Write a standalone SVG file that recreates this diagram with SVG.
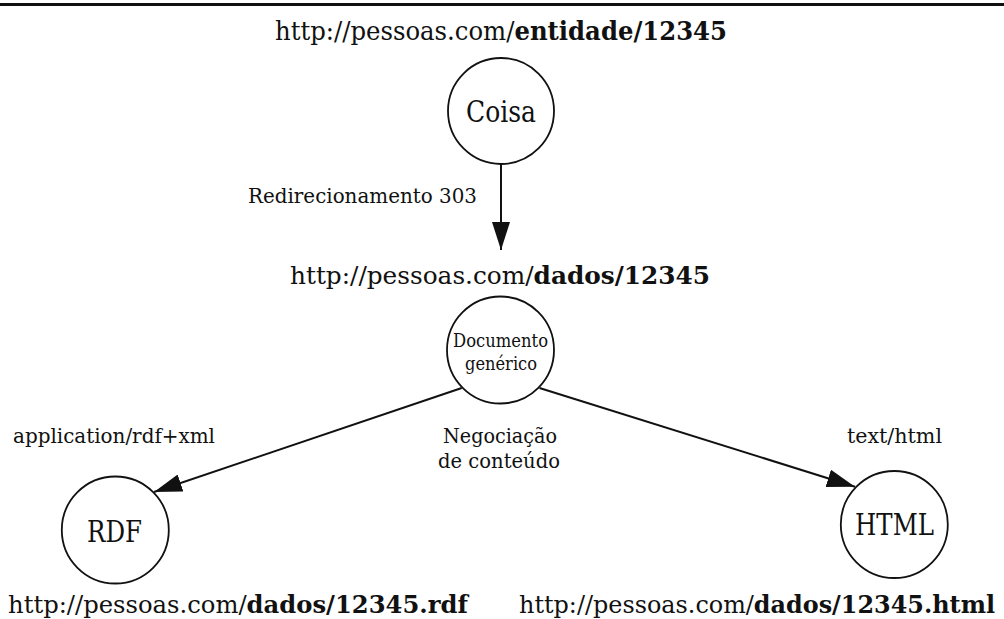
<svg xmlns="http://www.w3.org/2000/svg" width="1004" height="619" viewBox="0 0 1004 619">
<style>
text{font-family:"DejaVu Serif","Liberation Serif",serif;fill:#111;}
.node{fill:#fff;stroke:#111;stroke-width:1.8;}
.edge{stroke:#111;stroke-width:2;fill:none;}
.b{font-weight:bold;}
</style>
<defs>
<marker id="arr" viewBox="0 0 28 18" refX="28" refY="9" markerWidth="28" markerHeight="18" markerUnits="userSpaceOnUse" orient="auto">
<path d="M0,0 L28,9 L0,18 Z" fill="#111"/>
</marker>
</defs>
<rect x="0" y="3" width="1004" height="3" fill="#111"/>
<g id="connectors">
<line class="edge" x1="501" y1="164" x2="501" y2="250" marker-end="url(#arr)"/>
<line class="edge" x1="461.7" y1="388" x2="154" y2="492" marker-end="url(#arr)"/>
<line class="edge" x1="539.5" y1="388" x2="855" y2="486.7" marker-end="url(#arr)"/>
<text x="248" y="203" font-size="21" textLength="229" lengthAdjust="spacingAndGlyphs">Redirecionamento 303</text>
<text x="13" y="443" font-size="21" textLength="202" lengthAdjust="spacingAndGlyphs">application/rdf+xml</text>
<text x="847" y="443" font-size="21" textLength="95" lengthAdjust="spacingAndGlyphs">text/html</text>
<text x="443" y="443" font-size="21" textLength="114" lengthAdjust="spacingAndGlyphs">Negociação</text>
<text x="438" y="468" font-size="21" textLength="122" lengthAdjust="spacingAndGlyphs">de conteúdo</text>
</g>
<g id="coisa">
<text x="275" y="40" font-size="26" textLength="452" lengthAdjust="spacingAndGlyphs">http://pessoas.com/<tspan class="b">entidade/12345</tspan></text>
<circle class="node" cx="501" cy="111" r="53"/>
<text x="466" y="121.5" font-size="29" textLength="70" lengthAdjust="spacingAndGlyphs">Coisa</text>
</g>
<g id="documento">
<text x="290" y="284" font-size="24" textLength="420" lengthAdjust="spacingAndGlyphs">http://pessoas.com/<tspan class="b">dados/12345</tspan></text>
<circle class="node" cx="500.5" cy="350" r="53.5"/>
<text x="453" y="347" font-size="19" textLength="95" lengthAdjust="spacingAndGlyphs">Documento</text>
<text x="465" y="370" font-size="19" textLength="72" lengthAdjust="spacingAndGlyphs">genérico</text>
</g>
<g id="rdf">
<circle class="node" cx="115.3" cy="530" r="53.5"/>
<text x="87" y="542" font-size="29" textLength="55" lengthAdjust="spacingAndGlyphs">RDF</text>
<text x="8" y="613" font-size="24" textLength="460" lengthAdjust="spacingAndGlyphs">http://pessoas.com/<tspan class="b">dados/12345.rdf</tspan></text>
</g>
<g id="html">
<circle class="node" cx="894.3" cy="524.5" r="53.5"/>
<text x="855" y="535" font-size="29" textLength="79" lengthAdjust="spacingAndGlyphs">HTML</text>
<text x="519" y="613" font-size="24" textLength="476" lengthAdjust="spacingAndGlyphs">http://pessoas.com/<tspan class="b">dados/12345.html</tspan></text>
</g>
</svg>
